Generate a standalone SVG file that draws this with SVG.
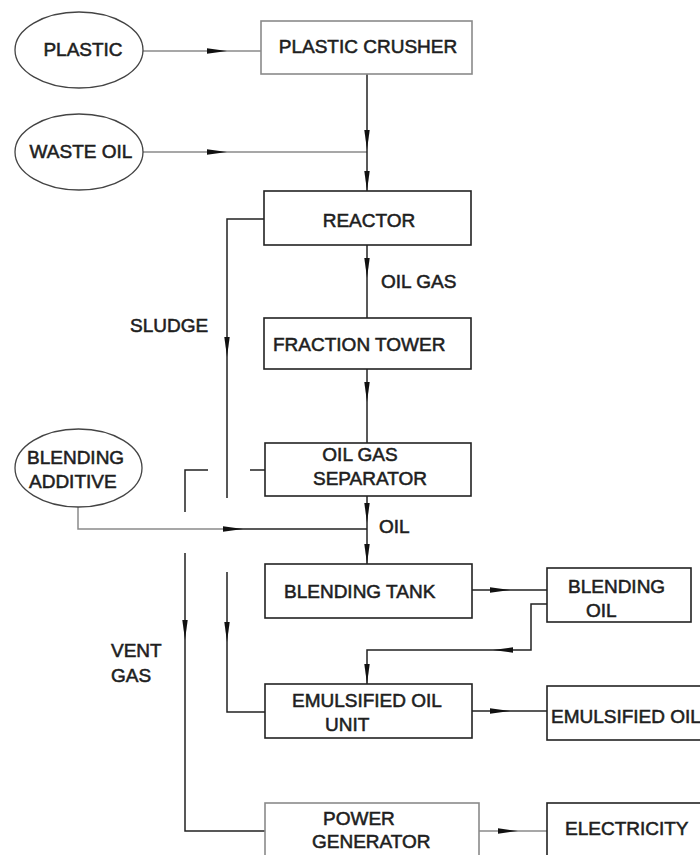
<svg xmlns="http://www.w3.org/2000/svg" width="700" height="855" viewBox="0 0 700 855">
<style>
text{font-family:"Liberation Sans",Arial,sans-serif;font-size:19px;fill:#1e1e1e;stroke:#1e1e1e;stroke-width:0.55}
.box{fill:#fff;stroke:#222;stroke-width:1.6}
.gbox{fill:#fff;stroke:#8a8a8a;stroke-width:1.6}
.ell{fill:#fff;stroke:#444;stroke-width:1.3}
.ln{fill:none;stroke:#222;stroke-width:1.5}
.gln{fill:none;stroke:#8a8a8a;stroke-width:1.5}
.ar{fill:none;stroke:none}
.c{text-anchor:middle}
</style>
<defs>
<marker id="ah" markerUnits="userSpaceOnUse" markerWidth="20" markerHeight="7" viewBox="0 0 20 7" refX="20" refY="3.5" orient="auto">
<path d="M0,0.8 L20,3.5 L0,6.2 z" fill="#111"/>
</marker>
</defs>

<g id="connectors">
<path class="gln" d="M143,51 L261,51"/>
<path class="gln" d="M143,152 L367,152"/>
<path class="ln" d="M367,74 L367,191"/>
<path class="ln" d="M367,245 L367,318"/>
<path class="ln" d="M367,369 L367,443"/>
<path class="ln" d="M367,496 L367,564"/>
<path class="ln" d="M264,219 L227,219 L227,498"/>
<path class="ln" d="M227,572 L227,712 L265,712"/>
<path class="ln" d="M250,470 L265,470"/>
<path class="ln" d="M208,470 L185,470 L185,512"/>
<path class="ln" d="M185,553 L185,831 L265,831"/>
<path class="gln" d="M78,507 L78,529 L225,529"/>
<path class="ln" d="M225,529 L367,529"/>
<path class="ln" d="M472,590 L547,590"/>
<path class="ln" d="M547,604 L531,604 L531,650 L367,650 L367,684"/>
<path class="ln" d="M472,711 L547,711"/>
<path class="gln" d="M479,831 L547,831"/>
<g id="arrowheads">
<path class="ar" d="M220,51 L227,51" marker-end="url(#ah)"/>
<path class="ar" d="M220,152 L227,152" marker-end="url(#ah)"/>
<path class="ar" d="M367,143 L367,150" marker-end="url(#ah)"/>
<path class="ar" d="M367,184 L367,191" marker-end="url(#ah)"/>
<path class="ar" d="M367,271 L367,278" marker-end="url(#ah)"/>
<path class="ar" d="M367,395 L367,402" marker-end="url(#ah)"/>
<path class="ar" d="M367,516 L367,523" marker-end="url(#ah)"/>
<path class="ar" d="M367,557 L367,564" marker-end="url(#ah)"/>
<path class="ar" d="M227,350 L227,357" marker-end="url(#ah)"/>
<path class="ar" d="M227,635 L227,642" marker-end="url(#ah)"/>
<path class="ar" d="M185,633 L185,640" marker-end="url(#ah)"/>
<path class="ar" d="M236,529 L243,529" marker-end="url(#ah)"/>
<path class="ar" d="M503,590 L510,590" marker-end="url(#ah)"/>
<path class="ar" d="M500,650 L493,650" marker-end="url(#ah)"/>
<path class="ar" d="M367,677 L367,684" marker-end="url(#ah)"/>
<path class="ar" d="M503,711 L510,711" marker-end="url(#ah)"/>
<path class="ar" d="M511,831 L518,831" marker-end="url(#ah)"/>
</g>
</g>

<g id="plastic"><ellipse class="ell" cx="79" cy="50" rx="64" ry="38"/><text class="c" x="83" y="56">PLASTIC</text></g>
<g id="waste-oil"><ellipse class="ell" cx="79" cy="152" rx="64" ry="38"/><text class="c" x="81" y="158">WASTE OIL</text></g>
<g id="blending-additive"><ellipse class="ell" cx="78.5" cy="468" rx="63.5" ry="39"/><text x="27" y="464">BLENDING</text><text x="29" y="488">ADDITIVE</text></g>
<g id="plastic-crusher"><rect class="gbox" x="261" y="21" width="211" height="53"/><text class="c" x="368" y="53">PLASTIC CRUSHER</text></g>
<g id="reactor"><rect class="box" x="264" y="191" width="207" height="54"/><text class="c" x="369" y="227">REACTOR</text></g>
<g id="oil-gas-label"><text x="381" y="288">OIL GAS</text></g>
<g id="sludge-label"><text x="130" y="332">SLUDGE</text></g>
<g id="fraction-tower"><rect class="box" x="264" y="318" width="207" height="51"/><text x="273" y="351">FRACTION TOWER</text></g>
<g id="oil-gas-separator"><rect class="box" x="265" y="443" width="206" height="53"/><text class="c" x="360" y="461">OIL GAS</text><text class="c" x="370" y="485">SEPARATOR</text></g>
<g id="oil-label"><text x="379" y="533">OIL</text></g>
<g id="vent-gas-label"><text x="111" y="657">VENT</text><text x="111" y="682">GAS</text></g>
<g id="blending-tank"><rect class="box" x="265" y="564" width="207" height="54"/><text x="284" y="598">BLENDING TANK</text></g>
<g id="blending-oil"><rect class="box" x="547" y="568" width="144" height="54"/><text x="568" y="593">BLENDING</text><text x="586" y="617">OIL</text></g>
<g id="emulsified-oil-unit"><rect class="box" x="265" y="684" width="207" height="54"/><text x="292" y="707">EMULSIFIED OIL</text><text x="325" y="731">UNIT</text></g>
<g id="emulsified-oil"><rect class="box" x="547" y="686" width="165" height="54"/><text x="551" y="723">EMULSIFIED OIL</text></g>
<g id="power-generator"><rect class="gbox" x="265" y="803" width="214" height="60"/><text x="323" y="825">POWER</text><text x="312" y="848">GENERATOR</text></g>
<g id="electricity"><rect class="box" x="547" y="803" width="160" height="60"/><text x="565" y="835">ELECTRICITY</text></g>
</svg>
